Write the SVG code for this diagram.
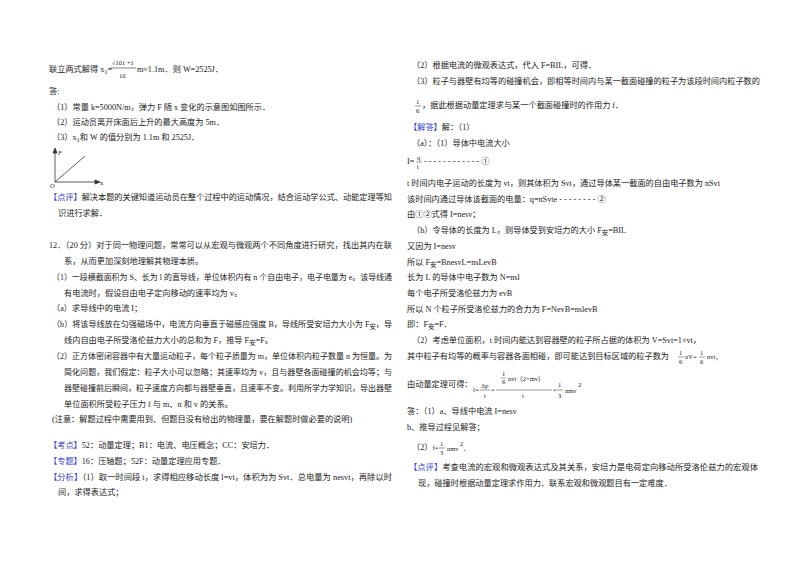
<svg xmlns="http://www.w3.org/2000/svg" width="800" height="565" viewBox="0 0 800 565">
<style>
text{font-family:"Liberation Serif","Noto Sans CJK SC",serif;font-size:8.2px;fill:#222}
.b{fill:#2f3fd0}
.s{font-size:6.5px}
</style>
<rect width="800" height="565" fill="#fff"/>
<g id="left">
<text x="49" y="72">联立两式解得 x<tspan class="s" dy="2">1</tspan><tspan dy="-2">=</tspan></text>
<text x="112" y="65" class="s">√101 +1</text>
<line x1="110" y1="68" x2="136" y2="68" stroke="#333" stroke-width="0.6"/>
<text x="119" y="78" class="s">10</text>
<text x="137" y="72">m≈1.1m．则 W=2525J．</text>
<text x="49" y="94">答:</text>
<text x="52" y="110">（1）常量 k=5000N/m，弹力 F 随 x 变化的示意图如图所示．</text>
<text x="52" y="125">（2）运动员离开床面后上升的最大高度为 5m．</text>
<text x="52" y="140">（3）x<tspan class="s" dy="2">1</tspan><tspan dy="-2">和 W 的值分别为 1.1m 和 2525J．</tspan></text>
<g id="graph" stroke="#333" stroke-width="0.8" fill="none">
<line x1="55" y1="182" x2="55" y2="150"/><path d="M53,153 L55,148 L57,153Z" fill="#333"/>
<line x1="55" y1="182" x2="97" y2="182"/><path d="M95,180 L100,182 L95,184Z" fill="#333"/>
<line x1="55" y1="182" x2="85" y2="156"/>
</g>
<text x="58" y="155" class="s" font-style="italic">F</text>
<text x="50" y="188" class="s" font-style="italic">O</text>
<text x="100" y="185" class="s">x</text>
<text x="49" y="200" textLength="343" lengthAdjust="spacingAndGlyphs"><tspan class="b">【点评】</tspan>解决本题的关键知道运动员在整个过程中的运动情况，结合运动学公式、动能定理等知</text>
<text x="58" y="216">识进行求解．</text>
<text x="49" y="248" textLength="343" lengthAdjust="spacingAndGlyphs">12．（20 分）对于同一物理问题，常常可以从宏观与微观两个不同角度进行研究，找出其内在联</text>
<text x="64" y="264">系，从而更加深刻地理解其物理本质。</text>
<text x="52" y="280" textLength="340" lengthAdjust="spacingAndGlyphs">（1）一段横截面积为 S、长为 l 的直导线，单位体积内有 n 个自由电子，电子电量为 e。该导线通</text>
<text x="64" y="296">有电流时，假设自由电子定向移动的速率均为 v。</text>
<text x="52" y="311">（a）求导线中的电流 I；</text>
<text x="52" y="327" textLength="340" lengthAdjust="spacingAndGlyphs">（b）将该导线放在匀强磁场中，电流方向垂直于磁感应强度 B，导线所受安培力大小为 F<tspan class="s" dy="2">安</tspan><tspan dy="-2">，导</tspan></text>
<text x="64" y="343">线内自由电子所受洛伦兹力大小的总和为 F，推导 F<tspan class="s" dy="2">安</tspan><tspan dy="-2">=F。</tspan></text>
<text x="52" y="359" textLength="340" lengthAdjust="spacingAndGlyphs">（2）正方体密闭容器中有大量运动粒子，每个粒子质量为 m，单位体积内粒子数量 n 为恒量。为</text>
<text x="64" y="375" textLength="328" lengthAdjust="spacingAndGlyphs">简化问题，我们假定：粒子大小可以忽略；其速率均为 v，且与器壁各面碰撞的机会均等；与</text>
<text x="64" y="391" textLength="328" lengthAdjust="spacingAndGlyphs">器壁碰撞前后瞬间，粒子速度方向都与器壁垂直，且速率不变。利用所学力学知识，导出器壁</text>
<text x="64" y="407">单位面积所受粒子压力 f 与 m、n 和 v 的关系。</text>
<text x="52" y="422">(注意：解题过程中需要用到、但题目没有给出的物理量，要在解题时做必要的说明)</text>
<text x="49" y="448"><tspan class="b">【考点】</tspan>52：动量定理；B1：电流、电压概念；CC：安培力．</text>
<text x="49" y="464"><tspan class="b">【专题】</tspan>16：压轴题；52F：动量定理应用专题．</text>
<text x="49" y="480" textLength="343" lengthAdjust="spacingAndGlyphs"><tspan class="b">【分析】</tspan>（1）取一时间段 t，求得相应移动长度 l=vt，体积为为 Svt．总电量为 nesvt，再除以时</text>
<text x="58" y="495">间，求得表达式；</text>
</g>
<g id="right">
<text x="412" y="68">（2）根据电流的微观表达式，代入 F=BIL，可得．</text>
<text x="412" y="84" textLength="348" lengthAdjust="spacingAndGlyphs">（3）粒子与器壁有均等的碰撞机会，即相等时间内与某一截面碰撞的粒子为该段时间内粒子数的</text>
<text x="416" y="104" class="s">1</text>
<line x1="415" y1="106" x2="421" y2="106" stroke="#333" stroke-width="0.5"/>
<text x="416" y="113" class="s">6</text>
<text x="422" y="108">，据此根据动量定理求与某一个截面碰撞时的作用力 f．</text>
<text x="409" y="130"><tspan class="b">【解答】</tspan>解：（1）</text>
<text x="412" y="146">（a）：（1）导体中电流大小</text>
<text x="407" y="164">I=</text>
<text x="417" y="160" class="s">q</text>
<line x1="416" y1="162" x2="422" y2="162" stroke="#333" stroke-width="0.5"/>
<text x="417" y="169" class="s">t</text>
<text x="424" y="164">- - - - - - - - - - - - ①</text>
<text x="407" y="186">t 时间内电子运动的长度为 vt，则其体积为 Svt，通过导体某一截面的自由电子数为 nSvt</text>
<text x="407" y="202">该时间内通过导体该截面的电量：q=nSvte - - - - - - - - ②</text>
<text x="407" y="217">由①②式得 I=nesv；</text>
<text x="412" y="233">（b）令导体的长度为 L，则导体受到安培力的大小 F<tspan class="s" dy="2">安</tspan><tspan dy="-2">=BIL</tspan></text>
<text x="407" y="249">又因为 I=nesv</text>
<text x="407" y="265">所以 F<tspan class="s" dy="2">安</tspan><tspan dy="-2">=BnesvL=nsLevB</tspan></text>
<text x="407" y="280">长为 L 的导体中电子数为 N=nsl</text>
<text x="407" y="296">每个电子所受洛伦兹力为 evB</text>
<text x="407" y="312">所以 N 个粒子所受洛伦兹力的合力为 F=NevB=nslevB</text>
<text x="407" y="327">即：F<tspan class="s" dy="2">安</tspan><tspan dy="-2">=F．</tspan></text>
<text x="412" y="343">（2）考虑单位面积，t 时间内能达到容器壁的粒子所占据的体积为 V=Svt=1×vt，</text>
<text x="407" y="359">其中粒子有均等的概率与容器各面相碰，即可能达到目标区域的粒子数为</text>
<text x="679" y="355" class="s">1</text><line x1="678" y1="357" x2="684" y2="357" stroke="#333" stroke-width="0.5"/><text x="679" y="364" class="s">6</text>
<text x="685" y="359" class="s">nV=</text>
<text x="700" y="355" class="s">1</text><line x1="699" y1="357" x2="705" y2="357" stroke="#333" stroke-width="0.5"/><text x="700" y="364" class="s">6</text>
<text x="707" y="359" class="s">nvt，</text>
<text x="407" y="387">由动量定理可得：</text>
<text x="473" y="392" class="s">f=</text>
<text x="481" y="388" class="s">Δp</text><line x1="480" y1="390" x2="490" y2="390" stroke="#333" stroke-width="0.5"/><text x="484" y="398" class="s">t</text>
<text x="491" y="392" class="s">=</text>
<text x="502" y="376" class="s">1</text><line x1="501" y1="378" x2="506" y2="378" stroke="#333" stroke-width="0.4"/><text x="502" y="384" class="s">6</text>
<text x="508" y="381" class="s">nvt（2×mv）</text>
<line x1="496" y1="390" x2="552" y2="390" stroke="#333" stroke-width="0.5"/>
<text x="522" y="398" class="s">t</text>
<text x="553" y="392" class="s">=</text>
<text x="558" y="387" class="s">1</text><line x1="557" y1="390" x2="563" y2="390" stroke="#333" stroke-width="0.5"/><text x="558" y="398" class="s">3</text>
<text x="565" y="393" class="s">nmv</text><text x="578" y="387" class="s">2</text>
<text x="407" y="414">答：（1）a、导线中电流 I=nesv</text>
<text x="407" y="430">b、推导过程见解答；</text>
<text x="412" y="450">（2）<tspan class="s">f=</tspan></text>
<text x="440" y="446" class="s">1</text><line x1="439" y1="448" x2="445" y2="448" stroke="#333" stroke-width="0.5"/><text x="440" y="455" class="s">3</text>
<text x="447" y="451" class="s">nmv</text><text x="460" y="446" class="s">2</text><text x="463" y="451" class="s">．</text>
<text x="409" y="470" textLength="349" lengthAdjust="spacingAndGlyphs"><tspan class="b">【点评】</tspan>考查电流的宏观和微观表达式及其关系，安培力是电荷定向移动所受洛伦兹力的宏观体</text>
<text x="418" y="486">现，碰撞时根据动量定理求作用力．联系宏观和微观题目有一定难度．</text>
</g>
</svg>
